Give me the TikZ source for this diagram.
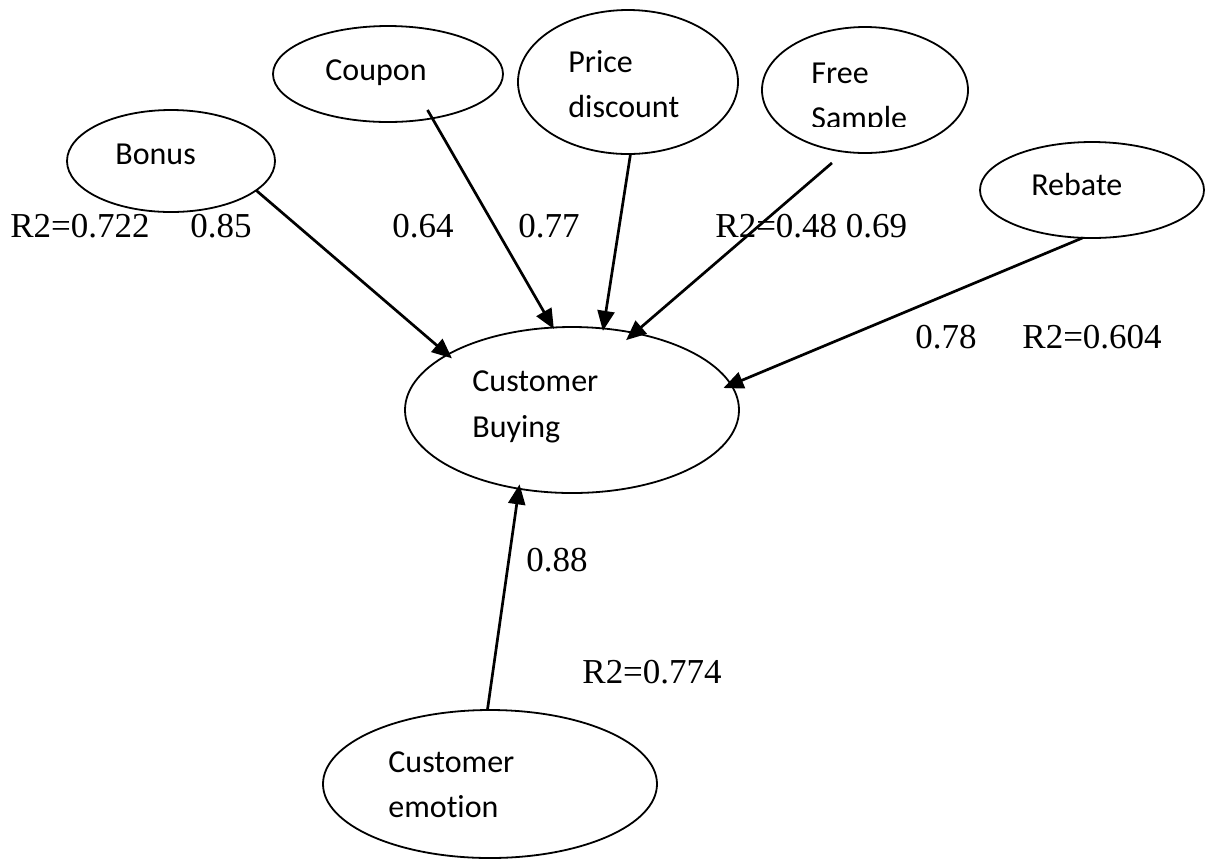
\documentclass[tikz,border=0pt]{standalone}
\usepackage{fontspec}
\setmainfont{Liberation Serif}
\newfontfamily\calibri[Ligatures=NoCommon]{Carlito}
\usetikzlibrary{arrows.meta,shapes.geometric}
\begin{document}
\begin{tikzpicture}[x=0.5pt,y=-0.5pt,
  ell/.style={draw, line width=0.9pt, ellipse, inner sep=0pt, outer sep=0pt},
  lbl/.style={anchor=base west, inner sep=0pt, font=\calibri\fontsize{16}{22.75}\selectfont},
  num/.style={anchor=base west, inner sep=0pt, font=\fontsize{17.5}{21}\selectfont},
  arr/.style={line width=1.35pt, -{Triangle[length=10pt,width=8.5pt]}}]
\useasboundingbox (0,0) rectangle (1206,859);
% ellipses
\node[ell, minimum width=104pt, minimum height=51pt] (bonus) at (171,161) {};
\node[ell, minimum width=115pt, minimum height=48pt] (coupon) at (388,74) {};
\node[ell, minimum width=110pt, minimum height=72pt] (price) at (628,82) {};
\node[ell, minimum width=103pt, minimum height=63pt] (free) at (865,90) {};
\node[ell, minimum width=112pt, minimum height=48pt] (rebate) at (1092,190) {};
\node[ell, minimum width=167pt, minimum height=83pt] (cb) at (572,410) {};
\node[ell, minimum width=167pt, minimum height=74pt] (emo) at (490,784) {};
% texts in ellipses
\node[lbl] (t-bonus) at (115,164) {Bonus};
\node[lbl] (t-coupon) at (325,80) {Coupon};
\node[lbl] (t-price1) at (568,72) {Price};
\node[lbl] (t-price2) at (568,117) {discount};
\node[lbl] (t-free1) at (811,83) {Free};
\begin{scope}
  \clip (780,60) rectangle (960,126);
  \node[lbl] (t-free2) at (811,128) {Sample};
\end{scope}
\node[lbl] (t-rebate) at (1031,195) {Rebate};
\node[lbl] (t-cb1) at (472,391) {Customer};
\node[lbl] (t-cb2) at (472,437) {Buying};
\node[lbl] (t-emo1) at (388,772) {Customer};
\node[lbl] (t-emo2) at (388,817) {emotion};
% arrows
\draw[arr, shorten >=-2.85pt] (bonus.-19) -- (cb.156);
\draw[arr, shorten <=-4.8pt, shorten >=-0.9pt] (coupon.-45) -- (cb.103);
\draw[arr, shorten >=-1.2pt] (price.-88) -- (cb.69);
\draw[arr, shorten <=8.55pt, shorten >=-5.45pt] (free.-108) -- (cb.51);
\draw[arr, shorten >=-4.15pt] (rebate.-101) -- (cb.9);
\draw[arr, shorten >=-2.2pt] (emo.92) -- (cb.-124);
% numeric labels
\node[num] (n1) at (10,237) {R2=0.722};
\node[num] (n2) at (190,237) {0.85};
\node[num] (n3) at (392,237) {0.64};
\node[num] (n4) at (518,237) {0.77};
\node[num] (n5) at (715,237) {R2=0.48 0.69};
\node[num] (n6) at (915,348) {0.78};
\node[num] (n7) at (1022,348) {R2=0.604};
\node[num] (n8) at (526,571) {0.88};
\node[num] (n9) at (582,683) {R2=0.774};
\end{tikzpicture}
\end{document}
